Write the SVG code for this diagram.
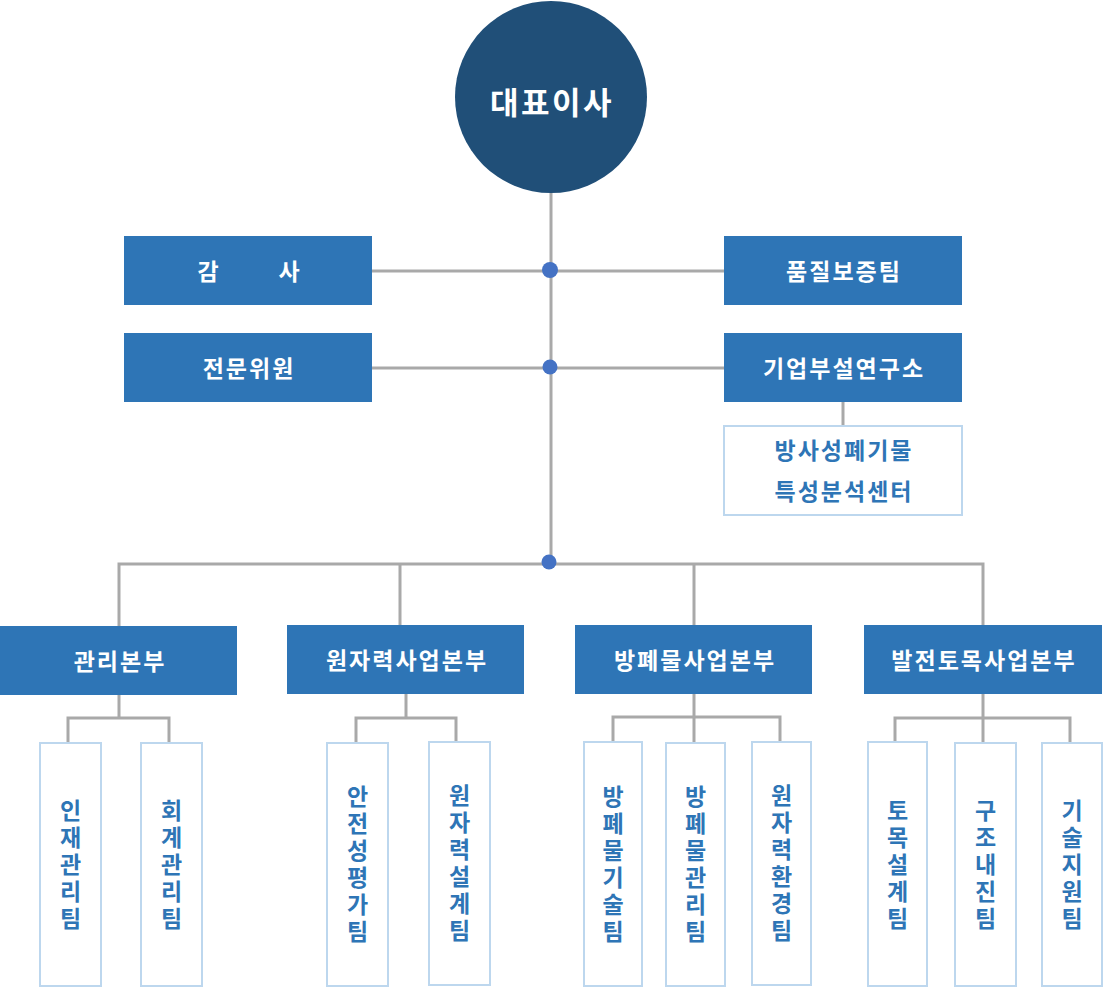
<svg xmlns="http://www.w3.org/2000/svg" width="1104" height="987" viewBox="0 0 1104 987">
<style>
.ln{stroke:#a9a9a9;stroke-width:3;fill:none}
.dot{fill:#4472c4}
.hd{fill:#2e75b6}
.tm{fill:#fff;stroke:#bdd7ee;stroke-width:2}
.wt{fill:#fff;font-family:"Noto Sans CJK KR","Noto Sans",sans-serif;font-weight:700;font-size:23px;text-anchor:middle;dominant-baseline:central;letter-spacing:2px}
.bt{fill:#2e75b6;font-family:"Noto Sans CJK KR","Noto Sans",sans-serif;font-weight:700;font-size:23px;text-anchor:middle;dominant-baseline:central;letter-spacing:2px}
.vt{fill:#2e75b6;font-family:"Noto Sans CJK KR","Noto Sans",sans-serif;font-weight:700;font-size:23px;text-anchor:middle;writing-mode:vertical-rl;text-orientation:upright;letter-spacing:4px}
</style>
<rect width="1104" height="987" fill="#fff"/>
<g id="connectors">
<path class="ln" d="M551 190V563"/>
<path class="ln" d="M372 271H724M372 368H724"/>
<path class="ln" d="M843 402V426"/>
<path class="ln" d="M119 626V564H983V626M400 564V625M694 564V625"/>
<path class="ln" d="M119 695V718M68 742V718H169V742"/>
<path class="ln" d="M406 694V718M356 742V718H456V742"/>
<path class="ln" d="M694 694V742M613 742V717H780V742"/>
<path class="ln" d="M983 694V742M895 742V718H1070V742"/>
<circle class="dot" cx="550" cy="270" r="8"/>
<circle class="dot" cx="550" cy="367" r="7.5"/>
<circle class="dot" cx="549" cy="562" r="7.5"/>
</g>
<g id="ceo">
<circle cx="551" cy="97" r="96" fill="#204f78"/>
<text class="wt" x="552" y="100" style="font-size:31px;letter-spacing:2.5px">대표이사</text>
</g>
<g id="audit">
<rect class="hd" x="124" y="236" width="248" height="69"/>
<text class="wt" y="270" style="letter-spacing:0"><tspan x="208">감</tspan><tspan x="289">사</tspan></text>
</g>
<g id="advisor">
<rect class="hd" x="124" y="333" width="248" height="69"/>
<text class="wt" x="249" y="367">전문위원</text>
</g>
<g id="qa">
<rect class="hd" x="724" y="236" width="238" height="69"/>
<text class="wt" x="844" y="270">품질보증팀</text>
</g>
<g id="lab">
<rect class="hd" x="724" y="333" width="238" height="69"/>
<text class="wt" x="844" y="367">기업부설연구소</text>
</g>
<g id="center">
<rect class="tm" x="724" y="426" width="238" height="89"/>
<text class="bt" x="844" y="449">방사성폐기물</text>
<text class="bt" x="844" y="490">특성분석센터</text>
</g>
<g id="div1">
<rect class="hd" x="0" y="626" width="237" height="69"/>
<text class="wt" x="120" y="660">관리본부</text>
</g>
<g id="div2">
<rect class="hd" x="287" y="625" width="237" height="69"/>
<text class="wt" x="407" y="659">원자력사업본부</text>
</g>
<g id="div3">
<rect class="hd" x="575" y="625" width="237" height="69"/>
<text class="wt" x="695" y="659">방폐물사업본부</text>
</g>
<g id="div4">
<rect class="hd" x="864" y="625" width="238" height="69"/>
<text class="wt" x="984" y="659">발전토목사업본부</text>
</g>
<g id="t1">
<rect class="tm" x="40" y="743" width="61" height="243"/>
<text class="vt" x="70.5" y="866">인재관리팀</text>
</g>
<g id="t2">
<rect class="tm" x="141" y="743" width="61" height="243"/>
<text class="vt" x="171.5" y="866">회계관리팀</text>
</g>
<g id="t3">
<rect class="tm" x="327" y="743" width="61" height="243"/>
<text class="vt" x="357.5" y="866">안전성평가팀</text>
</g>
<g id="t4">
<rect class="tm" x="429" y="742" width="61" height="243"/>
<text class="vt" x="459.5" y="865">원자력설계팀</text>
</g>
<g id="t5">
<rect class="tm" x="584" y="742" width="58" height="244"/>
<text class="vt" x="613" y="866">방폐물기술팀</text>
</g>
<g id="t6">
<rect class="tm" x="666" y="743" width="59" height="243"/>
<text class="vt" x="695.5" y="866">방폐물관리팀</text>
</g>
<g id="t7">
<rect class="tm" x="752" y="742" width="59" height="243"/>
<text class="vt" x="781.5" y="865">원자력환경팀</text>
</g>
<g id="t8">
<rect class="tm" x="868" y="742" width="59" height="244"/>
<text class="vt" x="897.5" y="866">토목설계팀</text>
</g>
<g id="t9">
<rect class="tm" x="955" y="743" width="61" height="243"/>
<text class="vt" x="985.5" y="866">구조내진팀</text>
</g>
<g id="t10">
<rect class="tm" x="1042" y="743" width="60" height="243"/>
<text class="vt" x="1072" y="866">기술지원팀</text>
</g>
</svg>
